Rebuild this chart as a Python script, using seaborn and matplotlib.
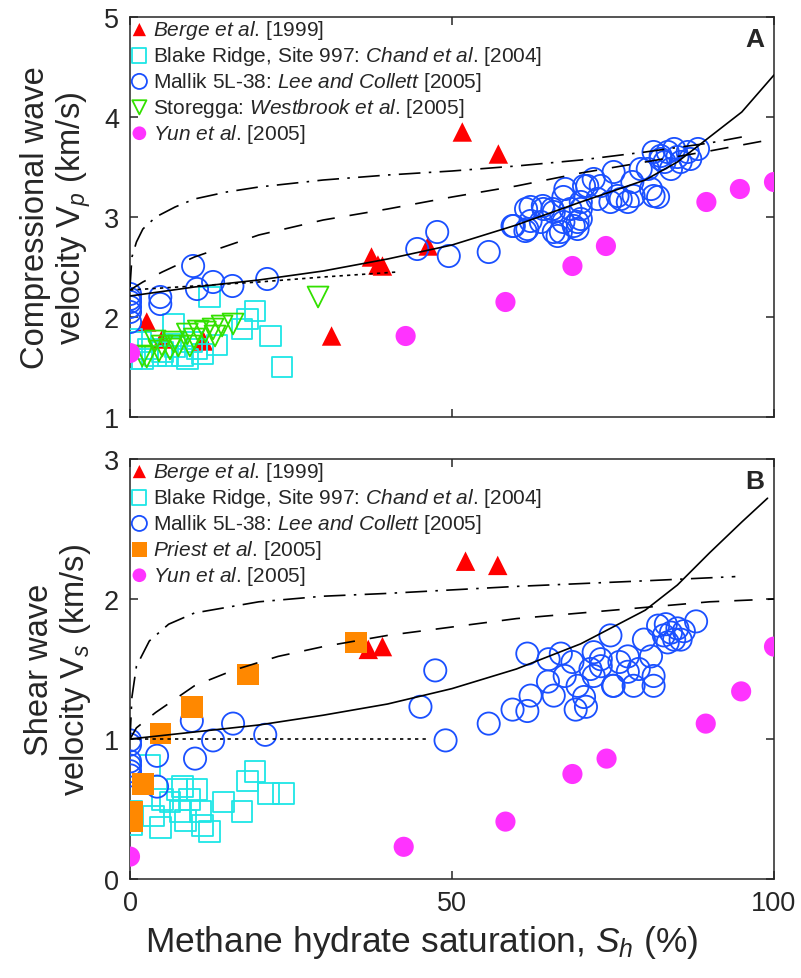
import numpy as np
import pandas as pd
import matplotlib
matplotlib.use("Agg")
import matplotlib.pyplot as plt
import seaborn as sns

# ---------------- DATA ----------------
# Panel A : compressional wave velocity (km/s)
berge_a_x = [2.6, 5.0, 11.4, 31.3, 37.5, 38.5, 39.2, 46.3, 51.6, 57.2]
berge_a_y = [1.95, 1.78, 1.76, 1.81, 2.60, 2.52, 2.51, 2.71, 3.85, 3.63]

blake_a_x = [0.3, 0.3, 6.7, 12.4, 19.4, 18.2, 17.4, 21.8, 23.6, 8.1, 8.9, 10.4, 11.2,
             3.9, 5.0, 9.6, 5.9, 2.8, 1.6, 1.9, 7.0, 13.5]
blake_a_y = [1.78, 1.58, 1.93, 2.20, 2.06, 1.98, 1.88, 1.81, 1.50, 1.61, 1.58, 1.68, 1.63,
             1.61, 1.65, 1.75, 1.61, 1.68, 1.75, 1.58, 1.70, 1.72]

mallik_a_x = [0, 0, 0, 0, 0, 0, 4.7, 4.7, 9.8, 10.4, 12.9, 15.9, 21.3,
              44.6, 47.7, 49.5, 55.7, 59.4, 61.4, 62.2, 64.1, 65.6, 65.8, 62.2, 67.3,
              68.4, 69.5, 67.3, 66.9, 70.0, 70.0, 72.0, 74.6, 75.7, 77.3, 78.0, 79.3,
              80.9, 82.0, 81.3, 82.4, 83.5, 84.5, 85.5, 86.6, 88.2, 84.0, 70.5, 73.1,
              68.9, 61.5, 64.2, 67.6, 71.0, 75.1, 80.4, 81.3, 82.4, 70.0, 72.6, 76.2,
              78.2, 66.4, 69.5, 59.6, 61.7, 63.8, 65.8, 83.0, 85.0, 87.0]
mallik_a_y = [2.23, 2.18, 2.15, 2.10, 2.05, 1.95, 2.20, 2.13, 2.51, 2.28, 2.35, 2.31, 2.38,
              2.68, 2.85, 2.61, 2.65, 2.91, 2.86, 2.96, 3.11, 3.08, 2.85, 3.10, 3.20,
              3.08, 2.95, 2.95, 2.85, 2.98, 3.15, 3.38, 3.15, 3.21, 3.15, 3.35, 3.48,
              3.28, 3.20, 3.65, 3.58, 3.65, 3.68, 3.55, 3.65, 3.68, 3.48, 3.31, 3.31,
              2.91, 3.08, 3.08, 3.28, 3.31, 3.45, 3.48, 3.21, 3.61, 3.08, 3.18, 3.18,
              3.21, 2.81, 2.88, 2.91, 2.88, 2.95, 3.05, 3.55, 3.60, 3.58]

storegga_x = [1.9, 2.6, 3.9, 5.0, 6.2, 7.5, 8.9, 9.3, 10.6, 11.7, 12.9, 13.2, 14.3, 16.0,
              4.5, 6.8, 10.0, 29.2]
storegga_y = [1.61, 1.60, 1.76, 1.71, 1.68, 1.71, 1.83, 1.71, 1.86, 1.85, 1.88, 1.81, 1.91, 1.93,
              1.66, 1.75, 1.78, 2.20]

yun_a_x = [0, 42.8, 58.3, 68.7, 73.9, 89.5, 94.7, 100]
yun_a_y = [1.64, 1.81, 2.15, 2.51, 2.71, 3.15, 3.28, 3.35]

# Panel A model curves
solid_a_x = [0, 10, 20, 30, 40, 50, 60, 70, 80, 85, 90, 95, 100]
solid_a_y = [2.21, 2.30, 2.37, 2.46, 2.58, 2.72, 2.92, 3.15, 3.37, 3.55, 3.80, 4.05, 4.42]
dash_a_x = [0, 2, 5, 10, 20, 30, 40, 50, 60, 70, 80, 90, 100]
dash_a_y = [2.27, 2.35, 2.45, 2.60, 2.82, 2.97, 3.08, 3.20, 3.31, 3.44, 3.55, 3.66, 3.78]
dashdot_a_x = [0, 0.3, 1, 2, 4, 7, 10, 15, 20, 30, 40, 50, 60, 70, 80, 90, 95]
dashdot_a_y = [2.30, 2.60, 2.75, 2.88, 3.00, 3.10, 3.18, 3.25, 3.30, 3.37, 3.42, 3.46, 3.51,
               3.57, 3.65, 3.74, 3.80]
dot_a_x = [0, 10, 20, 30, 41.5]
dot_a_y = [2.27, 2.31, 2.35, 2.40, 2.45]

# Panel B : shear wave velocity (km/s)
berge_b_x = [37.0, 39.2, 52.1, 57.1]
berge_b_y = [1.64, 1.66, 2.27, 2.24]

blake_b_x = [0.2, 0.2, 3.1, 3.6, 4.7, 7.3, 8.1, 7.8, 8.6, 10.4, 10.9, 11.2, 12.4, 14.5,
             17.4, 18.3, 19.4, 21.5, 23.8, 6.2, 9.3, 5.0]
blake_b_y = [0.48, 0.39, 0.81, 0.45, 0.37, 0.64, 0.66, 0.48, 0.42, 0.64, 0.48, 0.38, 0.34, 0.55,
             0.48, 0.70, 0.77, 0.61, 0.61, 0.55, 0.57, 0.57]

mallik_b_x = [0, 0, 0, 0, 0, 0, 4.2, 4.2, 9.6, 10.1, 12.9, 16.0, 21.0,
              47.4, 45.1, 49.0, 55.7, 59.4, 61.7, 62.2, 61.7, 65.0, 64.9, 65.8, 66.9,
              68.7, 69.5, 69.2, 70.8, 70.5, 72.0, 73.1, 72.0, 74.6, 75.0, 73.1, 75.1,
              77.3, 77.3, 78.2, 79.8, 80.9, 81.3, 81.3, 82.0, 83.2, 84.0, 85.0, 86.0,
              87.9, 82.9, 84.5, 85.5, 83.5, 67.5, 71.5, 76.0, 79.0]
mallik_b_y = [0.99, 0.96, 0.84, 0.81, 0.77, 0.74, 0.88, 0.66, 1.13, 0.86, 0.99, 1.11, 1.03,
              1.49, 1.23, 0.99, 1.11, 1.21, 1.20, 1.31, 1.61, 1.57, 1.41, 1.31, 1.61,
              1.55, 1.38, 1.21, 1.23, 1.30, 1.62, 1.52, 1.45, 1.74, 1.38, 1.57, 1.38,
              1.59, 1.48, 1.38, 1.71, 1.59, 1.45, 1.38, 1.81, 1.82, 1.76, 1.79, 1.77,
              1.84, 1.74, 1.71, 1.71, 1.69, 1.45, 1.50, 1.55, 1.50]

priest_x = [0.4, 0.4, 2.0, 4.7, 9.6, 18.3, 35.1]
priest_y = [0.41, 0.48, 0.68, 1.04, 1.23, 1.46, 1.69]

yun_b_x = [0, 42.5, 58.3, 68.7, 74.0, 89.4, 94.9, 100]
yun_b_y = [0.16, 0.23, 0.41, 0.75, 0.86, 1.11, 1.34, 1.66]

solid_b_x = [0, 10, 20, 30, 40, 50, 60, 70, 80, 85, 90, 95, 99]
solid_b_y = [1.00, 1.05, 1.10, 1.17, 1.25, 1.36, 1.50, 1.68, 1.92, 2.10, 2.33, 2.55, 2.72]
dash_b_x = [0, 1, 4, 10, 16, 23, 30, 40, 50, 60, 70, 80, 90, 100]
dash_b_y = [1.00, 1.08, 1.19, 1.38, 1.49, 1.59, 1.66, 1.74, 1.80, 1.86, 1.90, 1.94, 1.98, 2.00]
dashdot_b_x = [0, 0.3, 1, 3, 6, 10, 20, 30, 40, 60, 80, 94]
dashdot_b_y = [1.00, 1.30, 1.52, 1.70, 1.82, 1.90, 1.98, 2.02, 2.04, 2.09, 2.13, 2.16]
dot_b_x = [0, 20, 46]
dot_b_y = [1.00, 1.00, 1.00]

lab_berge = r"$\mathit{Berge\ et\ al}$. [1999]"
lab_blake = r"Blake Ridge, Site 997: $\mathit{Chand\ et\ al}$. [2004]"
lab_mallik = r"Mallik 5L-38: $\mathit{Lee\ and\ Collett}$ [2005]"
lab_store = r"Storegga: $\mathit{Westbrook\ et\ al}$. [2005]"
lab_priest = r"$\mathit{Priest\ et\ al}$. [2005]"
lab_yun = r"$\mathit{Yun\ et\ al}$. [2005]"

# ---------------- STYLE ----------------
sns.set_style("ticks")
plt.rcParams["font.family"] = ["Liberation Sans", "DejaVu Sans"]
plt.rcParams["mathtext.fontset"] = "custom"
plt.rcParams["mathtext.rm"] = "Liberation Sans"
plt.rcParams["mathtext.it"] = "Liberation Sans:italic"
plt.rcParams["mathtext.bf"] = "Liberation Sans:bold"

RED = "#ff0000"
CYAN = "#1ee6e6"
BLUE = "#1a50ff"
GREEN = "#33e000"
MAG = "#ff33ff"
ORANGE = "#ff8800"

DASH = (0, (11, 9))
DASHDOT = (0, (13, 5, 1.5, 5))
DOT = (0, (2, 2.5))

fig = plt.figure(figsize=(8.01, 9.79), dpi=100)
axA = fig.add_axes([130 / 801, 1 - 418 / 979, 644 / 801, 400 / 979])
axB = fig.add_axes([130 / 801, 1 - 880 / 979, 644 / 801, 420 / 979])


def open_pts(ax, x, y, marker, color, size, label, lw=1.3):
    sns.scatterplot(x=x, y=y, ax=ax, marker=marker, s=size ** 2, facecolor="none",
                    edgecolor=color, linewidth=lw, label=label, zorder=3)


def filled_pts(ax, x, y, marker, color, size, label, z=3):
    sns.scatterplot(x=x, y=y, ax=ax, marker=marker, s=size ** 2, color=color,
                    edgecolor="none", linewidth=0, label=label, zorder=z)


def curve(ax, x, y, ls):
    sns.lineplot(x=x, y=y, ax=ax, color="k", linewidth=1.2, linestyle=ls,
                 sort=False, estimator=None, zorder=5, legend=False)


# Panel A
filled_pts(axA, berge_a_x, berge_a_y, "^", RED, 14, lab_berge)
open_pts(axA, blake_a_x, blake_a_y, "s", CYAN, 15, lab_blake)
open_pts(axA, mallik_a_x, mallik_a_y, "o", BLUE, 16, lab_mallik)
open_pts(axA, storegga_x, storegga_y, "v", GREEN, 15, lab_store)
filled_pts(axA, yun_a_x, yun_a_y, "o", MAG, 14.5, lab_yun)
curve(axA, solid_a_x, solid_a_y, "-")
curve(axA, dash_a_x, dash_a_y, DASH)
curve(axA, dashdot_a_x, dashdot_a_y, DASHDOT)
curve(axA, dot_a_x, dot_a_y, DOT)

# Panel B
filled_pts(axB, berge_b_x, berge_b_y, "^", RED, 14, lab_berge)
open_pts(axB, blake_b_x, blake_b_y, "s", CYAN, 15, lab_blake)
open_pts(axB, mallik_b_x, mallik_b_y, "o", BLUE, 16, lab_mallik)
filled_pts(axB, priest_x, priest_y, "s", ORANGE, 15.5, lab_priest, z=4)
filled_pts(axB, yun_b_x, yun_b_y, "o", MAG, 14.5, lab_yun)
curve(axB, solid_b_x, solid_b_y, "-")
curve(axB, dash_b_x, dash_b_y, DASH)
curve(axB, dashdot_b_x, dashdot_b_y, DASHDOT)
curve(axB, dot_b_x, dot_b_y, DOT)

for ax, ylim, yt, letter in [(axA, (1, 5), [1, 2, 3, 4, 5], "A"),
                             (axB, (0, 3), [0, 1, 2, 3], "B")]:
    ax.set_xlim(0, 100)
    ax.set_ylim(*ylim)
    ax.set_xticks([0, 50, 100])
    ax.set_yticks(yt)
    ax.tick_params(direction="in", top=True, right=True, length=6, width=1.1,
                   labelsize=19.5, pad=8)
    for sp in ax.spines.values():
        sp.set_linewidth(1.1)
        sp.set_visible(True)
    ax.text(0.985, 0.975, letter, transform=ax.transAxes, ha="right", va="top",
            fontsize=19, fontweight="bold")
    leg = ax.legend(loc="upper left", frameon=False, fontsize=15, markerscale=0.68,
                    handletextpad=0.25, handlelength=0.8, labelspacing=0.14,
                    borderaxespad=0.0, borderpad=0.05, scatterpoints=1)

axA.tick_params(labelbottom=False)
axA.set_xlabel("")
axA.set_ylabel("Compressional wave\nvelocity V$_p$ (km/s)", fontsize=23.5,
               linespacing=1.1, labelpad=8)
axB.set_ylabel("Shear wave\nvelocity V$_s$ (km/s)", fontsize=23.5,
               linespacing=1.1, labelpad=8)
axB.set_xlabel(r"Methane hydrate saturation, $S_h$ (%)", fontsize=25.5)
axB.xaxis.set_label_coords((422 - 130) / 644, -0.105)

fig.savefig("out.png", dpi=100)
